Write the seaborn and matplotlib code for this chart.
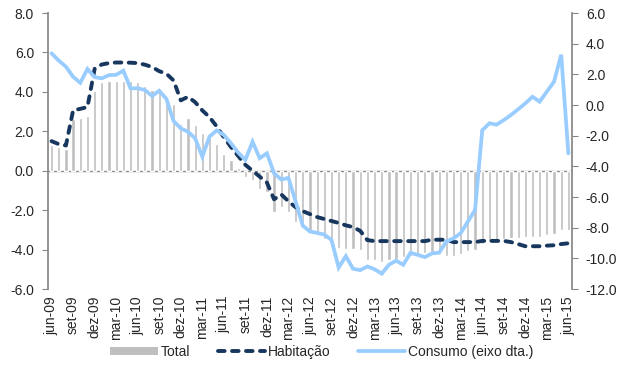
import matplotlib
matplotlib.use("Agg")
import matplotlib.pyplot as plt
from matplotlib.lines import Line2D
from matplotlib.patches import Patch
from matplotlib.ticker import FormatStrFormatter, MultipleLocator
import numpy as np
import pandas as pd
import seaborn as sns

# Monthly series, jun-09 .. jun-15
month_abbr = ["jan", "fev", "mar", "abr", "mai", "jun",
              "jul", "ago", "set", "out", "nov", "dez"]
months = [f"{month_abbr[(5 + i) % 12]}-{(9 + (5 + i) // 12):02d}" for i in range(73)]

total = [1.33, 1.2, 1.1, 2.64, 2.66, 2.78, 4.05, 4.5, 4.53, 4.53,
         4.55, 4.57, 4.5, 4.32, 4.11, 4.03, 3.68, 3.41, 2.36, 2.65,
         2.34, 1.91, 1.83, 1.37, 0.87, 0.52, 0.13, -0.32, -0.47, -0.91,
         -1.08, -2.1, -1.85, -2.1, -2.6, -2.86, -3.1, -3.25, -3.45, -3.7,
         -3.9, -3.96, -3.98, -4.0, -4.52, -4.55, -4.64, -4.55, -4.48, -4.38,
         -4.35, -4.21, -4.18, -4.1, -4.2, -4.3, -4.3, -4.2, -4.08, -4.0,
         -3.7, -3.62, -3.58, -3.45, -3.4, -3.4, -3.37, -3.37, -3.37, -3.28,
         -3.2, -3.03, -3.0]

habitacao = [1.5, 1.35, 1.28, 3.06, 3.14, 3.23, 5.17, 5.39, 5.46, 5.49,
             5.49, 5.48, 5.46, 5.38, 5.26, 5.05, 4.92, 4.58, 3.57, 3.75,
             3.48, 3.06, 2.72, 2.25, 1.7, 1.2, 0.75, 0.3, 0.0, -0.3,
             -0.6, -1.45, -1.2, -1.55, -1.85, -2.05, -2.2, -2.35, -2.45, -2.55,
             -2.65, -2.77, -2.86, -3.05, -3.52, -3.57, -3.57, -3.57, -3.57, -3.57,
             -3.57, -3.57, -3.57, -3.5, -3.5, -3.5, -3.62, -3.62, -3.62, -3.62,
             -3.56, -3.56, -3.56, -3.56, -3.62, -3.72, -3.83, -3.83, -3.83, -3.8,
             -3.78, -3.72, -3.68]

consumo = [3.37, 2.9, 2.5, 1.84, 1.45, 2.35, 1.82, 1.74, 1.95, 1.97,
           2.24, 1.09, 1.09, 0.98, 0.59, 0.93, 0.4, -1.05, -1.52, -1.74,
           -2.17, -3.37, -2.06, -1.66, -1.95, -2.5, -3.1, -3.58, -2.39, -3.47,
           -3.15, -4.45, -4.86, -4.75, -6.3, -7.87, -8.25, -8.34, -8.45, -8.8,
           -10.6, -9.86, -10.68, -10.77, -10.53, -10.71, -11.0, -10.42, -10.15, -10.42,
           -9.64, -9.77, -9.92, -9.68, -9.63, -8.9, -8.69, -8.36, -7.6, -6.84,
           -1.65, -1.19, -1.28, -0.98, -0.65, -0.28, 0.11, 0.54, 0.22, 0.87,
           1.52, 3.28, -3.15]

df = pd.DataFrame({"mes": months, "pos": np.arange(len(months)),
                   "Total": total, "Habitação": habitacao, "Consumo": consumo})

sns.set_theme(style="ticks")
plt.rcParams["font.family"] = ["Liberation Sans", "DejaVu Sans"]
plt.rcParams["axes.unicode_minus"] = False

BAR = "#BFBFBF"
NAVY = "#17375E"
LIGHT = "#99CCFF"
AXIS = "#868686"
FS = 10
LW_HAB = 2.8
LW_CON = 2.7

fig = plt.figure(figsize=(6.19, 3.67), dpi=100)
ax = fig.add_axes([0.0775, 0.2125, 0.8465, 0.752])

sns.barplot(data=df, x="pos", y="Total", ax=ax, color=BAR, saturation=1,
            width=0.45, zorder=2)
ax.axhline(0, color=AXIS, lw=1.0, zorder=1.5)

dash_style = (0, (1.7, 1.9))
sns.lineplot(data=df, x="pos", y="Habitação", ax=ax, color=NAVY, lw=LW_HAB,
             linestyle=dash_style, dash_capstyle="round", zorder=3)

ax2 = ax.twinx()
sns.lineplot(data=df, x="pos", y="Consumo", ax=ax2, color=LIGHT, lw=LW_CON,
             solid_joinstyle="miter", zorder=3)

ax.set_xlim(-0.5, len(months) - 0.5)
ax.set_ylim(-6, 8)
ax2.set_ylim(-12, 6)
ax.yaxis.set_major_locator(MultipleLocator(2))
ax2.yaxis.set_major_locator(MultipleLocator(2))
ax.yaxis.set_major_formatter(FormatStrFormatter("%.1f"))
ax2.yaxis.set_major_formatter(FormatStrFormatter("%.1f"))

ax.set_xticks(np.arange(0, len(months), 3))
ax.set_xticklabels(months[::3], rotation=90, fontsize=FS)
ax.tick_params(axis="x", length=0, pad=5)
ax.tick_params(axis="y", direction="out", length=4, width=0.8, color=AXIS,
               labelsize=FS, pad=6)
ax2.tick_params(axis="y", direction="out", length=4, width=0.8, color=AXIS,
                labelsize=FS, pad=6)

for a in (ax, ax2):
    a.set_xlabel("")
    a.set_ylabel("")
    a.spines["top"].set_visible(False)
    a.spines["bottom"].set_visible(False)
ax.spines["right"].set_visible(False)
ax.spines["left"].set_color(AXIS)
ax2.spines["left"].set_visible(False)
ax2.spines["right"].set_color(AXIS)

handles = [
    Patch(facecolor=BAR, edgecolor="none"),
    Line2D([0], [0], color=NAVY, lw=LW_HAB, linestyle=dash_style,
           dash_capstyle="round"),
    Line2D([0], [0], color=LIGHT, lw=LW_CON),
]
fig.legend(handles, ["Total", "Habitação", "Consumo (eixo dta.)"],
           loc="center", bbox_to_anchor=(0.52, 0.041), ncol=3,
           frameon=False, fontsize=FS, handlelength=3.4, handleheight=0.6,
           handletextpad=0.2, columnspacing=2.0)

fig.savefig("out.png", dpi=100)
